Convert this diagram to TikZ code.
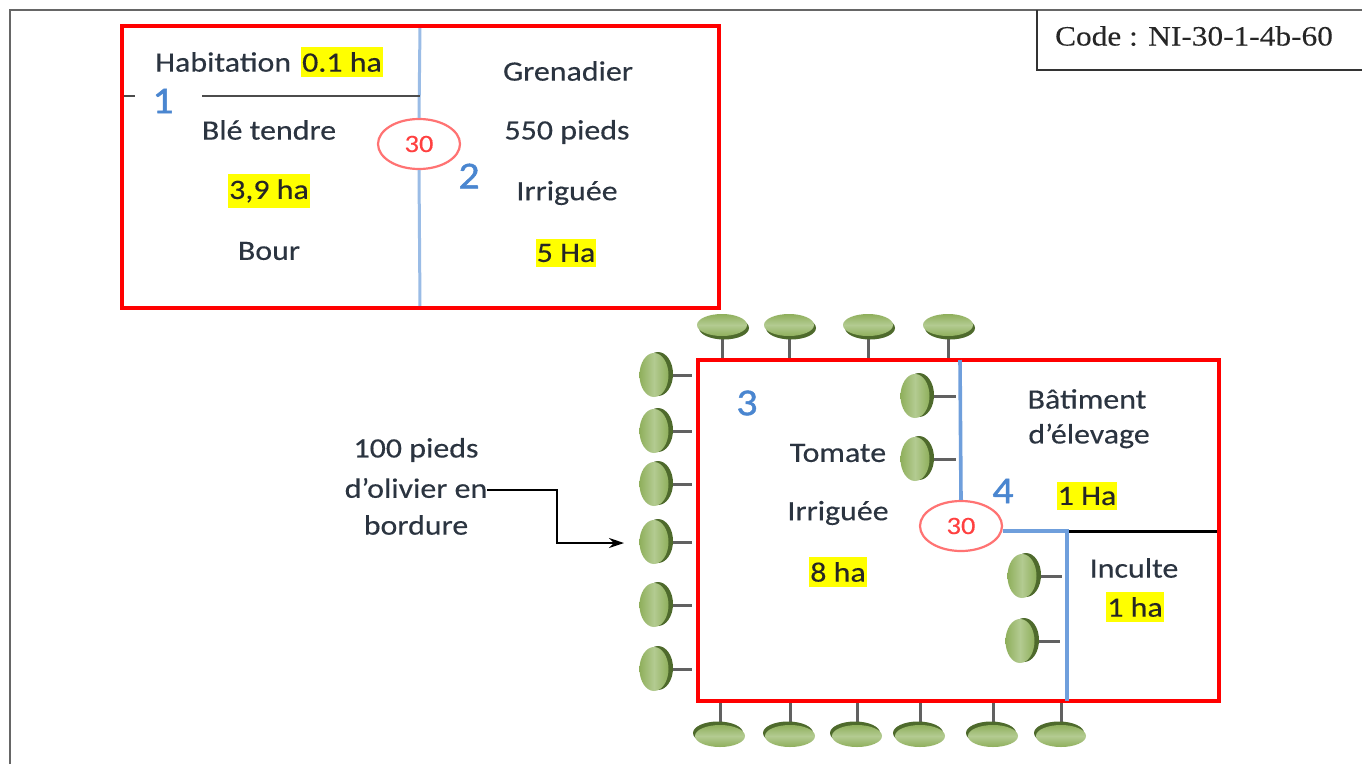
\documentclass[tikz,border=0pt]{standalone}
\usepackage{fontspec}
\setmainfont[FakeStretch=1.14,FakeBold=0.3]{Carlito}
\newfontfamily\codefont[FakeStretch=1.12,FakeBold=0.15]{Liberation Serif}
\newfontfamily\numfont[FakeStretch=1.1,FakeBold=1.2]{Carlito}
\usetikzlibrary{arrows.meta,shapes.geometric}
\definecolor{hl}{HTML}{FFFF00}
\definecolor{lbl}{HTML}{2B3440}
\definecolor{num}{HTML}{4A86D0}
\definecolor{bluel}{HTML}{6F9FDC}
\definecolor{oliveg}{HTML}{8FAF5C}
\definecolor{olived}{HTML}{4E6A2C}
\definecolor{olivel}{HTML}{B3CB91}
\tikzset{
  x=1pt,y=-1pt,
  plot/.style={draw=red,line width=3.4pt},
  divider/.style={draw=bluel,line width=3.6pt},
  dividerl/.style={draw=bluel!70,line width=3pt},
  stem/.style={draw=black!62,line width=3pt},
  blackline/.style={draw=black!70,line width=2.4pt},
  txt/.style={font=\fontsize{28}{30}\selectfont,text=lbl,inner sep=0pt},
  hltxt/.style={font=\fontsize{28}{30}\selectfont,text=black!85,fill=hl,inner xsep=1pt,inner ysep=5pt},
  numlabel/.style={font=\numfont\fontsize{38}{40}\selectfont,text=num,inner sep=0pt},
  well/.style={draw=red!55,line width=2.2pt,fill=white,ellipse,minimum width=82pt,minimum height=50pt,inner sep=0pt,font=\fontsize{25}{28}\selectfont,text=red!75},
  pics/olh/.style 2 args={code={
    \fill[olived] (#1,#2) ellipse [x radius=25pt,y radius=11.5pt];
    \shade[top color=oliveg,bottom color=oliveg,middle color=olivel] (0,0) ellipse [x radius=25pt,y radius=11pt];
  }},
  pics/olv/.style={code={
    \fill[olived] (4,-1) ellipse [x radius=15pt,y radius=22pt];
    \shade[left color=oliveg,right color=oliveg,middle color=olivel] (0,0) ellipse [x radius=14.5pt,y radius=22pt];
  }}
}
\begin{document}
\begin{tikzpicture}
\useasboundingbox (0,0) rectangle (1362,764);
\fill[white] (0,0) rectangle (1362,764);
% page frame
\coordinate (fbl) at (10,764);
\coordinate (ftl) at (10,10);
\coordinate (ftr) at (1362,10);
\draw[draw=black!60,line width=2.4pt] (fbl) -- (ftl) -- (ftr);
\coordinate (cbl) at (1037,10);
\coordinate (cb2) at (1037,70);
\coordinate (cb3) at (1362,70);
\draw[draw=black!80,line width=1.8pt] (cbl) -- (cb2) -- (cb3);
\node[font=\codefont\fontsize{28}{30}\selectfont,text=black!85,inner sep=0pt] (code) at (1194,36) {Code : NI-30-1-4b-60};

% plot A
\node[well] (w1) at (419,144) {30};
\coordinate (a1) at (420,26);
\coordinate (a2) at (420,308);
\coordinate (a3) at (420,96);
\coordinate (a4) at (122,96);
\coordinate (a5) at (135,96);
\coordinate (a6) at (202,96);
\draw[dividerl] (a1) -- (w1.north);
\draw[dividerl] (w1.south) -- (a2);
\draw[blackline] (a4) -- (a5);
\draw[blackline] (a6) -- (a3);
\draw[plot] (122,26) rectangle (719,308);
\node[txt,anchor=west] (hab) at (155,62) {Habitation};
\node[hltxt] (habv) at (342,62) {0.1 ha};
\node[numlabel] (n1) at (163,101) {1};
\node[txt] (ble) at (269,130) {Blé tendre};
\node[hltxt] (blev) at (269,191) {3,9 ha};
\node[txt] (bour) at (269,251) {Bour};
\node[numlabel] (n2) at (469,176) {2};
\node[txt] (gre) at (568,71) {Grenadier};
\node[txt] (pieds) at (567,132) {550 pieds};
\node[txt] (irr) at (567,193) {Irriguée};
\node[hltxt] (grev) at (566,253) {5 Ha};

% stems
\foreach \x in {722,789,868,948} \draw[stem] (\x,336) -- (\x,360);
\foreach \y in {375,431,484,542,605,669} \draw[stem] (668,\y) -- (692,\y);
\foreach \y in {396,459} \draw[stem] (930,\y) -- (956,\y);
\draw[stem] (1036,576) -- (1062,576);
\draw[stem] (1034,641) -- (1060,641);
\foreach \x in {720,790,857,920,993,1061} \draw[stem] (\x,702) -- (\x,725);

% plot B
\node[well] (w2) at (961,526) {30};
\coordinate (b1) at (960,360);
\coordinate (b2) at (1067,531);
\coordinate (b3) at (1067,701);
\coordinate (b4) at (1217,531);
\draw[draw=black,line width=3pt] (b2) -- (b4);
\draw[plot] (698,360) rectangle (1219,701);
\draw[divider] (b1) -- (w2.north);
\draw[divider] (w2.east |- b2) -- (b2) -- (b3);

% olives
\foreach \x in {722,789,868,948} \pic at (\x,325) {olh={2}{3}};
\foreach \x in {720,790,857,920,993,1061} \pic at (\x,736) {olh={-2}{-3}};
\foreach \y in {375,431,484,542,605,669} \pic at (654,\y) {olv};
\foreach \p/\q in {915/396,915/459,1022/576,1020/641} \pic at (\p,\q) {olv};

\node[numlabel] (n3) at (747,403) {3};
\node[txt] (tom) at (838,453) {Tomate};
\node[txt] (tirr) at (838,513) {Irriguée};
\node[hltxt] (tomv) at (838,572) {8 ha};
\node[numlabel] (n4) at (1003,491) {4};
\node[txt] (bat) at (1087,399) {Bâtiment};
\node[txt] (ele) at (1089,436) {d’élevage};
\node[hltxt] (batv) at (1087,496) {1 Ha};
\node[txt] (inc) at (1134,568) {Inculte};
\node[hltxt] (incv) at (1135,607) {1 ha};

% olive label
\node[txt] (o1) at (416,450) {100 pieds};
\node[txt] (o2) at (416,488) {d’olivier en};
\node[txt] (o3) at (416,525) {bordure};
\coordinate (ar1) at (557,490);
\coordinate (ar2) at (557,543);
\coordinate (ar3) at (624,543);
\draw[draw=black,line width=1.8pt,-{Stealth[length=15pt,width=10pt]}] (o2.east |- ar1) -- (ar1) -- (ar2) -- (ar3);
\end{tikzpicture}
\end{document}
